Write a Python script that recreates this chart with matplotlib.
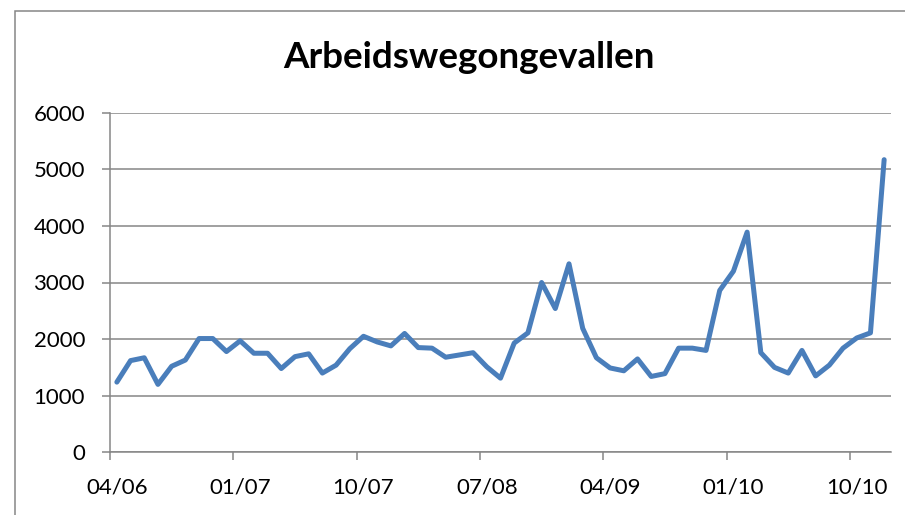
import numpy as np
import pandas as pd
import matplotlib
matplotlib.use("Agg")
import matplotlib.pyplot as plt
from matplotlib.patches import Rectangle

# monthly values, 04/2006 .. 12/2010
values = [1240, 1620, 1670, 1200, 1520, 1630, 2010, 2010, 1780, 1970,
          1750, 1750, 1480, 1690, 1740, 1400, 1540, 1830, 2050, 1950,
          1880, 2100, 1850, 1840, 1680, 1720, 1760, 1510, 1310, 1930,
          2110, 3000, 2540, 3330, 2190, 1670, 1490, 1440, 1650, 1340,
          1390, 1840, 1840, 1800, 2860, 3200, 3890, 1760, 1500, 1400,
          1800, 1350, 1540, 1840, 2020, 2110, 5170]
months = pd.date_range("2006-04-01", periods=len(values), freq="MS")
month_labels = [d.strftime("%m/%y") for d in months]
label_step = 9
yticks = [0, 1000, 2000, 3000, 4000, 5000, 6000]

plt.rcParams['font.family'] = ['Lato', 'DejaVu Sans']
grey = '#868686'

fig = plt.figure(figsize=(9.05, 5.15), dpi=100)
ax = fig.add_axes([110/905, 62.7/515, 781/905, 339.6/515])

x = np.arange(len(values))
ax.plot(x, values, color='#4A7EBB', linewidth=3.6, solid_joinstyle='round',
        solid_capstyle='round', zorder=3)

ax.set_ylim(0, 6000)
ax.set_xlim(-0.5, len(values) - 0.5)
ax.set_yticks(yticks)
ax.set_yticklabels([str(v) for v in yticks])
ax.yaxis.grid(True, color=grey, linewidth=1.1)
ax.set_axisbelow(True)

# tick marks on category boundaries, labels on the categories
ax.set_xticks(np.arange(0, len(values), label_step) - 0.5)
ax.set_xticklabels([])
ax.set_xticks(np.arange(0, len(values), label_step), minor=True)
ax.set_xticklabels(month_labels[::label_step], minor=True)
ax.tick_params(axis='x', which='major', length=6, width=1.1, color=grey)
ax.tick_params(axis='x', which='minor', length=0, pad=18, labelsize=16)
ax.tick_params(axis='y', length=6, width=1.1, color=grey, pad=12, labelsize=16)

for s in ['top', 'right']:
    ax.spines[s].set_visible(False)
for s in ['left', 'bottom']:
    ax.spines[s].set_color(grey)
    ax.spines[s].set_linewidth(1.1)

fig.text(469/905, 1 - 58/515, 'Arbeidswegongevallen', ha='center', va='center',
         fontsize=26.5, fontweight='bold')

fig.add_artist(Rectangle((14.5/905, -0.1), 1.0, (515 - 11)/515 + 0.1,
                         transform=fig.transFigure, fill=False,
                         edgecolor=grey, linewidth=1.1))

plt.savefig("out.png", dpi=100)
